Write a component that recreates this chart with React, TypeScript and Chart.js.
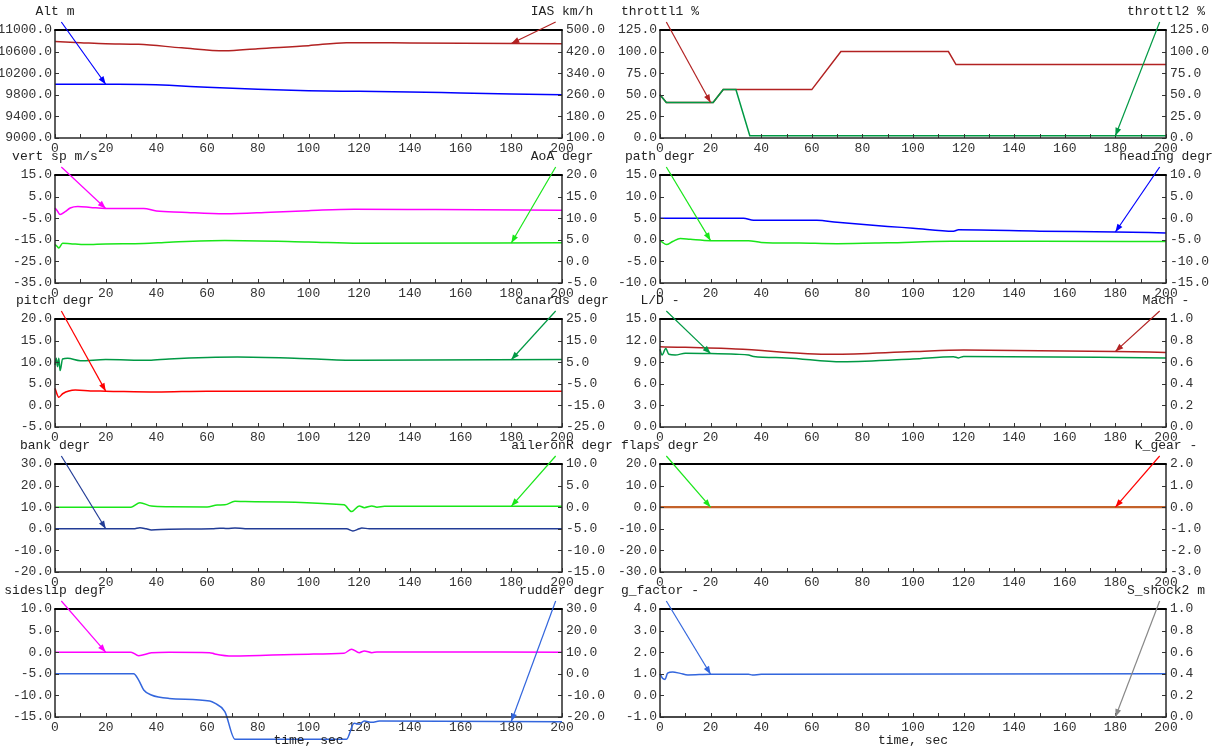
import React, { useEffect, useRef } from "react";
import { Chart, registerables } from "chart.js";
Chart.register(...registerables);

// ---------------- data (time in sec) ----------------
const timeTicksStep = 20;

const altT = [0, 25, 35, 45, 60, 80, 100, 120, 140, 160, 180, 200];
const altV = [9995, 9995, 9990, 9975, 9940, 9902, 9876, 9864, 9852, 9833, 9815, 9802];
const iasT = [0, 10, 20, 33, 50, 67, 80, 100, 115, 140, 200];
const iasV = [457, 453, 449, 447, 434, 423, 431, 442, 453, 452, 449];

const thr1T = [0, 2.5, 21, 25, 60, 71.5, 114, 117, 200];
const thr1V = [50, 41, 41, 56, 56, 100, 100, 85, 85];
const thr2T = [0, 2.5, 21, 25, 30, 35.5, 200];
const thr2V = [50, 41, 41, 56, 56, 2.5, 2.5];

const vsT = [0, 1, 2, 4, 6, 9, 14, 20, 35, 40, 50, 67, 85, 100, 118, 150, 200];
const vsV = [-0.2, -1.8, -3.3, -2.0, -0.3, 0.4, 0, -0.5, -0.5, -1.7, -2.2, -2.9, -2.2, -1.5, -0.8, -1.0, -1.3];
const aoaT = [0, 0.8, 1.5, 3, 6, 12, 20, 35, 45, 67, 100, 120, 200];
const aoaV = [3.9, 3.5, 3.1, 4.2, 4.1, 3.9, 4.05, 4.15, 4.45, 4.85, 4.5, 4.2, 4.3];

const pathT = [0, 1, 2.5, 5, 8, 12, 20, 35, 40, 55, 70, 90, 115, 150, 200];
const pathV = [-0.1, -0.6, -1.1, -0.4, 0.3, 0.1, -0.2, -0.2, -0.6, -0.75, -0.9, -0.7, -0.35, -0.35, -0.4];
const hdgT = [0, 33, 37, 62, 70, 90, 100, 116, 118, 150, 180, 200];
const hdgV = [0, 0, -0.45, -0.5, -0.95, -1.9, -2.3, -3.0, -2.7, -3.0, -3.2, -3.4];

const pitchT = [0, 1.5, 3, 8, 14, 20, 40, 60, 200];
const pitchV = [3.95, 1.9, 2.7, 3.55, 3.35, 3.3, 3.1, 3.3, 3.3];
const canT = [0, 0.5, 1, 1.5, 2, 3, 5, 10, 20, 37, 45, 72, 100, 120, 200];
const canV = [3.7, 6.8, 2.9, 6.8, 1.1, 6.5, 6.8, 5.7, 6.2, 5.9, 6.5, 7.4, 6.6, 5.9, 6.2];

const ldT = [0, 0.8, 2.3, 3.5, 6, 10, 20, 30, 35, 37, 50, 72, 100, 116, 118, 120, 200];
const ldV = [10.8, 10.0, 10.9, 10.1, 10.0, 10.25, 10.2, 10.1, 10.0, 9.8, 9.6, 9.07, 9.45, 9.77, 9.6, 9.8, 9.6];
const machT = [0, 30, 68, 100, 120, 180, 200];
const machV = [0.744, 0.722, 0.673, 0.698, 0.713, 0.7, 0.69];

const bankT = [0, 31, 33.5, 36, 38, 45, 62, 65, 68, 71, 75, 115, 117.5, 120, 121, 124, 200];
const bankV = [0, 0, 0.5, 0, -0.5, -0.2, 0, 0.3, 0.1, 0.4, 0, 0, -1, 0, 0.4, 0, 0];
const ailT = [0, 30, 33.5, 38, 45, 60, 64, 67, 71, 75, 114, 117, 120, 122, 125, 127, 130, 200];
const ailV = [0, 0, 1.05, 0.25, 0.1, 0.05, 0.5, 0.55, 1.35, 1.3, 0.55, -1.0, 0.3, -0.1, 0.3, 0, 0.2, 0.2];

const flapsT = [0, 200];
const flapsV = [0, 0];
const gearT = [0, 200];
const gearV = [0, 0];

const ssT = [0, 30, 33, 38, 45, 61, 63, 70, 100, 114, 117, 120, 122, 125, 127, 200];
const ssV = [0, 0, -0.8, -0.15, 0, -0.1, -0.4, -0.9, -0.45, -0.25, 0.7, -0.1, 0.3, -0.1, 0.05, 0];
const rudT = [0, 31, 33, 35, 38, 45, 61, 63, 67, 71, 115, 118, 120, 122, 125, 128, 200];
const rudV = [0, 0, -2.9, -7.5, -9.8, -11.4, -12.6, -13.6, -17.5, -30.3, -30.3, -22.9, -23.3, -21.9, -22.4, -21.9, -22.2];

const gT = [0, 1, 2, 3, 5, 8, 11, 20, 35, 36.5, 40, 200];
const gV = [1.0, 0.79, 0.74, 1.03, 1.08, 1.02, 0.95, 0.98, 0.98, 0.94, 0.98, 1.0];
const shockT = [0, 200];
const shockV = [0, 0];

// ---------------- styles / layout ----------------
const FONT = "'Liberation Mono', 'DejaVu Sans Mono', monospace";
const BLUE = "#0000ff";
const FIRE = "#b22222";
const DKGREEN = "#009944";
const LIME = "#19e619";
const MAGENTA = "#ff00ff";
const RED = "#ff0000";
const NAVY = "#223c96";
const ROYAL = "#3366dd";
const GRAY = "#888888";

const COLS = [
  { canvasX: 0, canvasW: 630, plotL: 55, plotR: 562 },
  { canvasX: 590, canvasW: 622, plotL: 660, plotR: 1166 },
];
const ROW_TOPS = [30, 175, 319, 464, 609];
const PLOT_H = 108;
const TOP_PAD = 30;

type Series = {
  name: string; color: string; arrowColor?: string; width?: number; t: number[]; v: number[];
  min: number; max: number; step: number; linear?: boolean;
};
type Panel = { col: number; row: number; left: Series; right: Series; rightOnTop?: boolean };

const panels: Panel[] = [
  { col: 0, row: 0,
    left: { name: "Alt m", color: BLUE, t: altT, v: altV, min: 9000, max: 11000, step: 400 },
    right: { name: "IAS km/h", color: FIRE, t: iasT, v: iasV, min: 100, max: 500, step: 80 } },
  { col: 1, row: 0, rightOnTop: true,
    left: { name: "throttl1 %", color: FIRE, t: thr1T, v: thr1V, min: 0, max: 125, step: 25, linear: true },
    right: { name: "throttl2 %", color: DKGREEN, t: thr2T, v: thr2V, min: 0, max: 125, step: 25, linear: true } },
  { col: 0, row: 1,
    left: { name: "vert sp m/s", color: MAGENTA, t: vsT, v: vsV, min: -35, max: 15, step: 10 },
    right: { name: "AoA degr", color: LIME, t: aoaT, v: aoaV, min: -5, max: 20, step: 5 } },
  { col: 1, row: 1,
    left: { name: "path degr", color: LIME, t: pathT, v: pathV, min: -10, max: 15, step: 5 },
    right: { name: "heading degr", color: BLUE, t: hdgT, v: hdgV, min: -15, max: 10, step: 5 } },
  { col: 0, row: 2,
    left: { name: "pitch degr", color: RED, t: pitchT, v: pitchV, min: -5, max: 20, step: 5 },
    right: { name: "canards degr", color: DKGREEN, t: canT, v: canV, min: -25, max: 25, step: 10 } },
  { col: 1, row: 2,
    left: { name: "L/D -", color: DKGREEN, t: ldT, v: ldV, min: 0, max: 15, step: 3 },
    right: { name: "Mach -", color: FIRE, t: machT, v: machV, min: 0, max: 1, step: 0.2 } },
  { col: 0, row: 3,
    left: { name: "bank degr", color: NAVY, t: bankT, v: bankV, min: -20, max: 30, step: 10 },
    right: { name: "aileronR degr", color: LIME, t: ailT, v: ailV, min: -15, max: 10, step: 5 } },
  { col: 1, row: 3, rightOnTop: true,
    left: { name: "flaps degr", color: LIME, t: flapsT, v: flapsV, min: -30, max: 20, step: 10, linear: true },
    right: { name: "K_gear -", color: "#c4622a", width: 2.2, arrowColor: RED, t: gearT, v: gearV, min: -3, max: 2, step: 1, linear: true } },
  { col: 0, row: 4,
    left: { name: "sideslip degr", color: MAGENTA, t: ssT, v: ssV, min: -15, max: 10, step: 5 },
    right: { name: "rudder degr", color: ROYAL, t: rudT, v: rudV, min: -20, max: 30, step: 10 } },
  { col: 1, row: 4,
    left: { name: "g_factor -", color: ROYAL, t: gT, v: gV, min: -1, max: 4, step: 1 },
    right: { name: "S_shock2 m", color: GRAY, t: shockT, v: shockV, min: 0, max: 1, step: 0.2, linear: true } },
];

function valueAt(t: number[], v: number[], x: number) {
  for (let i = 0; i < t.length - 1; i++) {
    if (x >= t[i] && x <= t[i + 1]) {
      const f = (x - t[i]) / (t[i + 1] - t[i]);
      return v[i] + f * (v[i + 1] - v[i]);
    }
  }
  return v[v.length - 1];
}

function drawArrow(ctx: CanvasRenderingContext2D, x1: number, y1: number, x2: number, y2: number, color: string) {
  ctx.strokeStyle = color;
  ctx.fillStyle = color;
  ctx.lineWidth = 1.2;
  ctx.beginPath();
  ctx.moveTo(x1, y1);
  ctx.lineTo(x2, y2);
  ctx.stroke();
  const ang = Math.atan2(y2 - y1, x2 - x1);
  const L = 8, W = 3;
  ctx.beginPath();
  ctx.moveTo(x2, y2);
  ctx.lineTo(x2 - L * Math.cos(ang) + W * Math.sin(ang), y2 - L * Math.sin(ang) - W * Math.cos(ang));
  ctx.lineTo(x2 - L * Math.cos(ang) - W * Math.sin(ang), y2 - L * Math.sin(ang) + W * Math.cos(ang));
  ctx.closePath();
  ctx.fill();
}

function canvasHeight(row: number) {
  return row === 4 ? 749 - (ROW_TOPS[row] - TOP_PAD) : TOP_PAD + PLOT_H + 26;
}

function makeConfig(p: Panel): any {
  const col = COLS[p.col];
  const H = canvasHeight(p.row);
  const leftW = col.plotL - col.canvasX;
  const rightW = col.canvasX + col.canvasW - col.plotR;
  const tickFont = { family: FONT, size: 13 };
  const fmt = (v: any) => Number(v).toFixed(1);
  const mk = (s: Series, axis: string, order: number) => ({
    data: s.t.map((t, i) => ({ x: t, y: s.v[i] })),
    yAxisID: axis,
    borderColor: s.color,
    backgroundColor: s.color,
    borderWidth: s.width || 1.5,
    pointRadius: 0,
    tension: 0,
    cubicInterpolationMode: s.linear ? "default" : "monotone",
    clip: false,
    order,
  });
  const decor = {
    id: "decor",
    afterDatasetsDraw(chart: any) {
      const ctx: CanvasRenderingContext2D = chart.ctx;
      const a = chart.chartArea;
      const xs = chart.scales.x, yl = chart.scales.yL, yr = chart.scales.yR;
      ctx.save();
      ctx.strokeStyle = "#333";
      ctx.lineWidth = 1;
      ctx.beginPath();
      for (let t = 0; t <= 200; t += 10) {
        const x = Math.round(xs.getPixelForValue(t)) + 0.5;
        ctx.moveTo(x, a.bottom);
        ctx.lineTo(x, a.bottom - 4);
      }
      yl.ticks.forEach((tk: any) => {
        const y = Math.round(yl.getPixelForValue(tk.value)) + 0.5;
        ctx.moveTo(a.left, y);
        ctx.lineTo(a.left + 4, y);
      });
      yr.ticks.forEach((tk: any) => {
        const y = Math.round(yr.getPixelForValue(tk.value)) + 0.5;
        ctx.moveTo(a.right, y);
        ctx.lineTo(a.right - 4, y);
      });
      ctx.stroke();
      ctx.lineWidth = 1.5;
      ctx.strokeStyle = "#2a2a2a";
      ctx.beginPath();
      ctx.moveTo(a.left, a.top);
      ctx.lineTo(a.left, a.bottom);
      ctx.lineTo(a.right, a.bottom);
      ctx.lineTo(a.right, a.top);
      ctx.stroke();
      ctx.lineWidth = 2;
      ctx.strokeStyle = "#000";
      ctx.beginPath();
      ctx.moveTo(a.left - 0.75, a.top);
      ctx.lineTo(a.right + 0.75, a.top);
      ctx.stroke();

      ctx.font = `13px ${FONT}`;
      ctx.fillStyle = "#222";
      ctx.textAlign = "center";
      ctx.textBaseline = "middle";
      ctx.fillText(p.left.name, a.left, a.top - 18);
      ctx.fillText(p.right.name, a.right, a.top - 18);
      if (p.row === 4) ctx.fillText("time, sec", (a.left + a.right) / 2, a.bottom + 24);

      const sx1 = xs.getPixelForValue(2.5), sx2 = xs.getPixelForValue(197.5);
      drawArrow(ctx, sx1, a.top - 8, xs.getPixelForValue(20),
        yl.getPixelForValue(valueAt(p.left.t, p.left.v, 20)), p.left.arrowColor || p.left.color);
      drawArrow(ctx, sx2, a.top - 8, xs.getPixelForValue(180),
        yr.getPixelForValue(valueAt(p.right.t, p.right.v, 180)), p.right.arrowColor || p.right.color);
      ctx.restore();
    },
  };
  return {
    type: "line",
    data: {
      datasets: [mk(p.left, "yL", p.rightOnTop ? 1 : 0), mk(p.right, "yR", p.rightOnTop ? 0 : 1)],
    },
    options: {
      animation: false,
      responsive: false,
      maintainAspectRatio: false,
      events: [],
      layout: { padding: { top: TOP_PAD, left: 0, right: 0, bottom: 0 } },
      plugins: { legend: { display: false }, tooltip: { enabled: false }, title: { display: false } },
      scales: {
        x: {
          type: "linear", min: 0, max: 200,
          ticks: { stepSize: timeTicksStep, autoSkip: false, maxRotation: 0, padding: 3, color: "#333", font: tickFont,
            callback: (v: any) => String(v) },
          grid: { display: false, drawTicks: false },
          border: { display: false },
          afterFit: (s: any) => { s.height = H - TOP_PAD - PLOT_H; },
        },
        yL: {
          type: "linear", position: "left", min: p.left.min, max: p.left.max,
          ticks: { stepSize: p.left.step, padding: 3, color: "#333", font: tickFont, callback: fmt },
          grid: { display: false, drawTicks: false },
          border: { display: false },
          afterFit: (s: any) => { s.width = leftW; },
        },
        yR: {
          type: "linear", position: "right", min: p.right.min, max: p.right.max,
          ticks: { stepSize: p.right.step, padding: 4, color: "#333", font: tickFont, callback: fmt },
          grid: { display: false, drawTicks: false },
          border: { display: false },
          afterFit: (s: any) => { s.width = rightW; },
        },
      },
    },
    plugins: [decor],
  };
}

export default function App() {
  const refs = useRef<(HTMLCanvasElement | null)[]>([]);
  useEffect(() => {
    const charts = panels.map((p, i) => new Chart(refs.current[i] as HTMLCanvasElement, makeConfig(p)));
    return () => charts.forEach((c) => c.destroy());
  }, []);
  return (
    <div style={{ position: "fixed", left: 0, top: 0, width: 1212, height: 749, background: "#fff", overflow: "hidden" }}>
      {panels.map((p, i) => {
        const col = COLS[p.col];
        const H = canvasHeight(p.row);
        return (
          <canvas
            key={i}
            ref={(el) => { refs.current[i] = el; }}
            width={col.canvasW}
            height={H}
            style={{ position: "absolute", left: col.canvasX, top: ROW_TOPS[p.row] - TOP_PAD, width: col.canvasW, height: H }}
          />
        );
      })}
    </div>
  );
}
